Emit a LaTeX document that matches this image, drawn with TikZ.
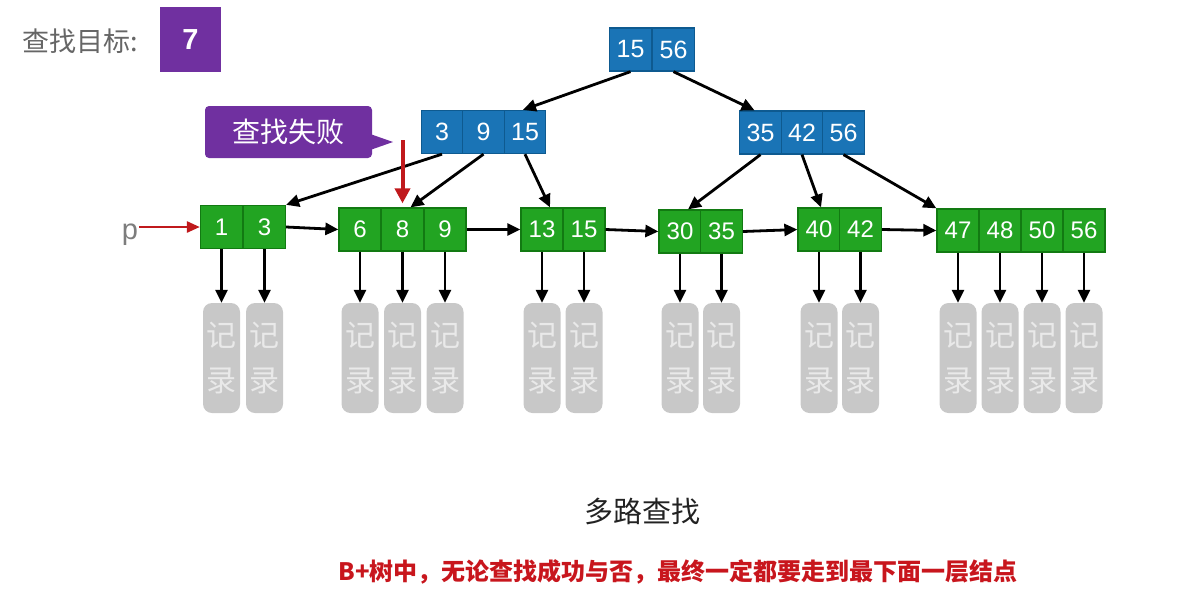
\documentclass[tikz,border=0pt]{standalone}
\usepackage{fontspec}
\setmainfont{Liberation Sans}
\newfontfamily\cjk{Noto Sans CJK SC}
\usetikzlibrary{arrows.meta,calc}
\definecolor{bluefill}{HTML}{1A74B6}
\definecolor{blueline}{HTML}{0E5A90}
\definecolor{greenfill}{HTML}{22A422}
\definecolor{greenline}{HTML}{127A12}
\definecolor{recgray}{HTML}{C8C8C8}
\definecolor{rectext}{HTML}{E9E9E9}
\definecolor{purp}{HTML}{7030A0}
\definecolor{redarrow}{HTML}{C0191C}
\definecolor{redtext}{HTML}{C8161D}
\definecolor{goaltext}{HTML}{666666}
\definecolor{darktext}{HTML}{222222}
\begin{document}
\begin{tikzpicture}[x=1pt,y=-1pt,
  bcell/.style={draw=blueline, fill=bluefill, line width=1.3pt, minimum width=41.5pt, minimum height=43pt, inner sep=0pt, text=white, font=\fontsize{25}{28}\selectfont},
  gcell/.style={draw=greenline, fill=greenfill, line width=1.3pt, minimum width=42pt, minimum height=43pt, inner sep=0pt, text=white, font=\fontsize{24}{27}\selectfont},
  rec/.style={fill=recgray, rounded corners=9pt, minimum width=37pt, minimum height=110pt, inner sep=0pt, text=rectext, align=center, font=\cjk\fontsize{30}{45}\selectfont},
  arr/.style={line width=2.8pt, draw=black, -{Triangle[length=13pt,width=12pt]}},
  redarr/.style={line width=4pt, draw=redarrow, -{Triangle[length=15pt,width=15pt]}},
  predarr/.style={line width=2.6pt, draw=redarrow, -{Triangle[length=13pt,width=11pt]}},
]
\useasboundingbox (0,0) rectangle (1198,592);

% goal
\node[text=goaltext, font=\cjk\fontsize{27}{30}\selectfont, anchor=west, inner sep=0pt] (goal) at (22,41) {查找目标:};
\node[fill=purp, minimum width=61pt, minimum height=65pt, inner sep=0pt, text=white, font=\bfseries\fontsize{29}{30}\selectfont] (target) at (190.5,39.5) {7};

% root
\node[bcell] (r1) at (630.5,49.5) {15};
\node[bcell] (r2) at (673.5,49.5) {56};
% internal
\node[bcell] (i1a) at (442,132) {3};
\node[bcell] (i1b) at (483.5,132) {9};
\node[bcell] (i1c) at (525,132) {15};
\node[bcell] (i2a) at (760.5,132.5) {35};
\node[bcell] (i2b) at (802,132.5) {42};
\node[bcell] (i2c) at (843.5,132.5) {56};

% leaves
\node[gcell] (l1a) at (221.5,227) {1};
\node[gcell] (l1b) at (264.5,227) {3};
\node[gcell] (l2a) at (360,229.5) {6};
\node[gcell] (l2b) at (402.5,229.5) {8};
\node[gcell] (l2c) at (445,229.5) {9};
\node[gcell] (l3a) at (542,229.5) {13};
\node[gcell] (l3b) at (584,229.5) {15};
\node[gcell] (l4a) at (680,231.5) {30};
\node[gcell] (l4b) at (721.5,231.5) {35};
\node[gcell] (l5a) at (819,229.5) {40};
\node[gcell] (l5b) at (860.5,229.5) {42};
\node[gcell] (l6a) at (958,230.5) {47};
\node[gcell] (l6b) at (1000,230.5) {48};
\node[gcell] (l6c) at (1042,230.5) {50};
\node[gcell] (l6d) at (1084,230.5) {56};

% records
\coordinate (recy) at (0,358);
\foreach \c in {l1a,l1b,l2a,l2b,l2c,l3a,l3b,l4a,l4b,l5a,l5b,l6a,l6b,l6c,l6d}{
  \node[rec] (rec\c) at (\c |- recy) {记\\录};
  \draw[arr] (\c.south) -- (rec\c.north);
}

% tree edges
\draw[arr] (r1.south) -- ([xshift=-2pt]i1c.north);
\draw[arr] (r2.south) -- ([xshift=-6pt]i2a.north);
\draw[arr] (i1a.south) -- (l1b.north east);
\draw[arr] (i1b.south) -- ([xshift=8pt]l2b.north);
\draw[arr] (i1c.south) -- ([xshift=8pt]l3a.north);
\draw[arr] (i2a.south) -- ([xshift=8pt]l4a.north);
\draw[arr] (i2b.south) -- ([xshift=2pt]l5a.north);
\draw[arr] (i2c.south) -- (l6a.north west);

% leaf chain
\draw[arr] (l1b.east) -- (l2a.west);
\draw[arr] (l2c.east) -- (l3a.west);
\draw[arr] (l3b.east) -- (l4a.west);
\draw[arr] (l4b.east) -- (l5a.west);
\draw[arr] (l5b.east) -- (l6a.west);

% p pointer
\node[text=goaltext!85, font=\fontsize{29}{30}\selectfont, anchor=base, inner sep=1pt] (p) at (130,239) {p};
\draw[predarr] (p.east |- l1a.west) -- (l1a.west);

% callout
\node[fill=purp, rounded corners=4pt, minimum width=167pt, minimum height=52pt, inner sep=0pt, text=white, font=\cjk\fontsize{28}{30}\selectfont] (fail) at (288.5,132) {查找失败};
\coordinate (failtip) at (393,142);
\fill[purp] ($(fail.east)+(-2,2)$) -- (failtip) -- ($(fail.east)+(-2,18)$) -- cycle;

% red search arrow
\coordinate (redstart) at (402.5,140);
\draw[redarr, shorten >=4pt] (redstart) -- (l2b.north);

% captions
\node[font=\cjk\fontsize{29}{32}\selectfont, text=darktext] (title) at (642,511) {多路查找};
\node[font=\cjk\bfseries\fontsize{24}{28}\selectfont, text=redtext] (note) at (678,572) {B+树中，无论查找成功与否，最终一定都要走到最下面一层结点};
\end{tikzpicture}
\end{document}
